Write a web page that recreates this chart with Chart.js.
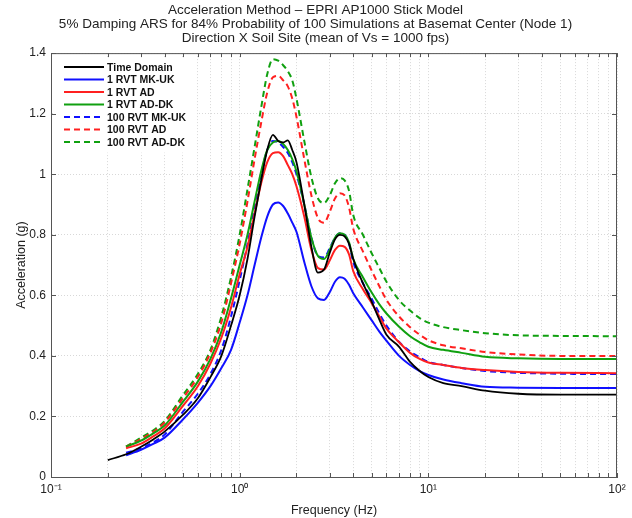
<!DOCTYPE html>
<html>
<head>
<meta charset="utf-8">
<script src="https://cdn.jsdelivr.net/npm/chart.js@4.4.1/dist/chart.umd.min.js"></script>
<style>
  html, body { margin: 0; padding: 0; background: #fff; }
  #wrap { width: 632px; height: 518px; }
</style>
</head>
<body>
<div id="wrap"><canvas id="arsChart" width="632" height="518"></canvas></div>
<script>
// frequencies (Hz)
const freq = [0.2, 0.25, 0.3, 0.35, 0.4, 0.5, 0.6, 0.7, 0.8, 0.9, 1.0, 1.1, 1.2, 1.3, 1.4, 1.5, 1.6, 1.7, 1.8, 1.9,
              2.0, 2.2, 2.4, 2.6, 2.8, 3.0, 3.2, 3.4, 3.6, 3.8, 4.0, 4.5, 5, 5.5, 6, 7, 8, 9, 10, 12, 15, 20, 30, 50, 100];

// spectral acceleration (g)
const timeDomain = [0.056, 0.075, 0.10, 0.125, 0.15, 0.205, 0.26, 0.33, 0.40, 0.50, 0.60, 0.72, 0.86, 0.98, 1.08, 1.13, 1.11, 1.105, 1.112, 1.08,
                    1.04, 0.90, 0.76, 0.675, 0.685, 0.74, 0.785, 0.80, 0.795, 0.77, 0.72, 0.64, 0.58, 0.52, 0.47, 0.43, 0.38, 0.35, 0.33, 0.31, 0.30, 0.285, 0.275, 0.272, 0.272];
const rvt1MkUk = [null, 0.072, 0.09, 0.11, 0.13, 0.19, 0.245, 0.30, 0.36, 0.42, 0.51, 0.60, 0.70, 0.79, 0.86, 0.90, 0.907, 0.895, 0.87, 0.84,
                  0.81, 0.71, 0.63, 0.59, 0.585, 0.61, 0.645, 0.66, 0.655, 0.635, 0.607, 0.56, 0.518, 0.48, 0.45, 0.40, 0.37, 0.35, 0.337, 0.322, 0.31, 0.298, 0.295, 0.294, 0.294];
const rvt1Ad = [null, 0.095, 0.11, 0.135, 0.16, 0.235, 0.30, 0.375, 0.46, 0.56, 0.67, 0.76, 0.87, 0.97, 1.04, 1.07, 1.073, 1.06, 1.03, 1.00,
                0.96, 0.86, 0.75, 0.69, 0.685, 0.715, 0.75, 0.764, 0.76, 0.735, 0.68, 0.62, 0.575, 0.53, 0.49, 0.445, 0.41, 0.39, 0.378, 0.37, 0.36, 0.353, 0.347, 0.344, 0.343];
const rvt1AdDk = [null, 0.10, 0.12, 0.145, 0.17, 0.248, 0.315, 0.39, 0.48, 0.59, 0.70, 0.80, 0.91, 1.01, 1.08, 1.105, 1.11, 1.10, 1.08, 1.05,
                  1.01, 0.90, 0.79, 0.73, 0.72, 0.75, 0.79, 0.805, 0.80, 0.775, 0.72, 0.66, 0.61, 0.57, 0.54, 0.496, 0.465, 0.445, 0.43, 0.42, 0.41, 0.397, 0.392, 0.39, 0.39];
const rvt100MkUk = [null, 0.08, 0.095, 0.115, 0.14, 0.215, 0.275, 0.34, 0.42, 0.53, 0.65, 0.77, 0.89, 1.00, 1.08, 1.11, 1.105, 1.09, 1.07, 1.04,
                    1.00, 0.90, 0.79, 0.73, 0.725, 0.755, 0.79, 0.805, 0.80, 0.77, 0.71, 0.64, 0.59, 0.54, 0.50, 0.446, 0.415, 0.395, 0.38, 0.37, 0.36, 0.35, 0.344, 0.341, 0.34];
const rvt100Ad = [null, 0.10, 0.125, 0.15, 0.18, 0.26, 0.33, 0.41, 0.51, 0.64, 0.77, 0.91, 1.05, 1.17, 1.27, 1.32, 1.325, 1.31, 1.29, 1.25,
                  1.19, 1.05, 0.93, 0.855, 0.84, 0.875, 0.92, 0.937, 0.93, 0.89, 0.82, 0.745, 0.683, 0.63, 0.585, 0.53, 0.495, 0.47, 0.452, 0.435, 0.425, 0.413, 0.405, 0.40, 0.40];
const rvt100AdDk = [null, 0.10, 0.13, 0.155, 0.185, 0.27, 0.34, 0.42, 0.53, 0.66, 0.80, 0.95, 1.09, 1.22, 1.33, 1.38, 1.375, 1.36, 1.34, 1.31,
                    1.25, 1.11, 0.99, 0.92, 0.905, 0.93, 0.97, 0.987, 0.98, 0.945, 0.865, 0.80, 0.74, 0.69, 0.645, 0.584, 0.55, 0.525, 0.51, 0.495, 0.485, 0.475, 0.468, 0.466, 0.465];

const seriesNames = ['Time Domain', '1 RVT MK-UK', '1 RVT AD', '1 RVT AD-DK', '100 RVT MK-UK', '100 RVT AD', '100 RVT AD-DK'];
const seriesValues = [timeDomain, rvt1MkUk, rvt1Ad, rvt1AdDk, rvt100MkUk, rvt100Ad, rvt100AdDk];
const seriesColors = ['#000000', '#1010ff', '#ff2020', '#10a010', '#1010ff', '#ff2020', '#10a010'];
const seriesDashed = [false, false, false, false, true, true, true];

const xTickValues = [0.1, 0.2, 0.3, 0.4, 0.5, 0.6, 0.7, 0.8, 0.9, 1, 2, 3, 4, 5, 6, 7, 8, 9, 10,
                     20, 30, 40, 50, 60, 70, 80, 90, 100];
const xTickLabels = { 0.1: '10\u207B\u00B9', 1: '10\u2070', 10: '10\u00B9', 100: '10\u00B2' };
const yTickValues = [0, 0.2, 0.4, 0.6, 0.8, 1, 1.2, 1.4];

const titleLines = [
    'Acceleration Method \u2013 EPRI AP1000 Stick Model',
    '5% Damping ARS for 84% Probability of 100 Simulations at Basemat Center (Node 1)',
    'Direction X Soil Site (mean of Vs = 1000 fps)'
];

const FONT = '"Liberation Sans", Arial, sans-serif';

// legend inside the plot box (top-left) plus the box frame and inward ticks
const insideLegend = {
    id: 'insideLegend',
    afterDatasetsDraw(chart) {
        const ctx = chart.ctx;
        const area = chart.chartArea;
        const x0 = area.left + 4, y0 = area.top + 4;
        const rowH = 12.5;
        ctx.save();
        ctx.fillStyle = '#fff';
        ctx.fillRect(x0, y0, 142, rowH * seriesNames.length + 8);
        ctx.font = 'bold 10.5px ' + FONT;
        ctx.textBaseline = 'middle';
        chart.data.datasets.forEach((ds, i) => {
            const y = y0 + 10 + i * rowH;
            ctx.strokeStyle = ds.borderColor;
            ctx.lineWidth = 2;
            ctx.setLineDash(ds.borderDash || []);
            ctx.beginPath();
            ctx.moveTo(x0 + 9, y);
            ctx.lineTo(x0 + 49, y);
            ctx.stroke();
            ctx.setLineDash([]);
            ctx.fillStyle = '#111';
            ctx.fillText(ds.label, x0 + 52, y + 0.5);
        });
        ctx.restore();
    },
    afterDraw(chart) {
        const a = chart.chartArea;
        const ctx = chart.ctx;
        const xs = chart.scales.x, ys = chart.scales.y;
        ctx.save();
        ctx.strokeStyle = '#555';
        ctx.lineWidth = 1;
        ctx.strokeRect(a.left + 0.5, a.top + 0.5, a.right - a.left - 1, a.bottom - a.top);
        ctx.beginPath();
        xTickValues.forEach(v => {
            const px = Math.round(xs.getPixelForValue(v)) + 0.5;
            ctx.moveTo(px, a.bottom); ctx.lineTo(px, a.bottom - 4);
            ctx.moveTo(px, a.top); ctx.lineTo(px, a.top + 4);
        });
        yTickValues.forEach(v => {
            const py = Math.round(ys.getPixelForValue(v)) + 0.5;
            ctx.moveTo(a.left, py); ctx.lineTo(a.left + 5, py);
            ctx.moveTo(a.right, py); ctx.lineTo(a.right - 5, py);
        });
        ctx.stroke();
        ctx.restore();
    }
};

const datasets = seriesNames.map((name, i) => ({
    label: name,
    data: freq.map((f, k) => ({ x: f, y: seriesValues[i][k] })),
    borderColor: seriesColors[i],
    borderWidth: i === 0 ? 1.8 : 2,
    borderDash: seriesDashed[i] ? [6, 4] : [],
    pointRadius: 0,
    cubicInterpolationMode: 'monotone',
    fill: false
}));

const ctx = document.getElementById('arsChart').getContext('2d');
const arsChart = new Chart(ctx, {
    type: 'line',
    data: { datasets: datasets },
    options: {
        responsive: false,
        animation: false,
        layout: { padding: { left: 14, right: 15, top: 0, bottom: 0 } },
        scales: {
            x: {
                type: 'logarithmic',
                min: 0.1,
                max: 100,
                afterBuildTicks: (scale) => {
                    scale.ticks = xTickValues.map(v => ({ value: v }));
                },
                afterFit: (scale) => { scale.height = 41; },
                ticks: {
                    autoSkip: false,
                    maxRotation: 0,
                    color: '#222',
                    font: { family: FONT, size: 12 },
                    padding: 5,
                    callback: (value) => xTickLabels[value] || ''
                },
                grid: {
                    color: '#d8d8d8',
                    drawTicks: false
                },
                border: { color: '#555', dash: [1, 2] },
                title: {
                    display: true,
                    text: 'Frequency (Hz)',
                    color: '#222',
                    font: { family: FONT, size: 12.5 },
                    padding: { top: 1, bottom: 0 }
                }
            },
            y: {
                min: 0,
                max: 1.4,
                afterBuildTicks: (scale) => {
                    scale.ticks = yTickValues.map(v => ({ value: v }));
                },
                afterFit: (scale) => { scale.width = 37; },
                ticks: {
                    color: '#222',
                    font: { family: FONT, size: 12 },
                    padding: 5,
                    callback: (value) => String(value)
                },
                grid: {
                    color: '#d8d8d8',
                    drawTicks: false
                },
                border: { color: '#555', dash: [1, 2] },
                title: {
                    display: true,
                    text: 'Acceleration (g)',
                    color: '#222',
                    font: { family: FONT, size: 12.5 },
                    padding: { top: 0, bottom: 2 }
                }
            }
        },
        plugins: {
            legend: { display: false },
            tooltip: { enabled: false },
            title: {
                display: true,
                text: titleLines,
                color: '#222',
                font: { family: FONT, size: 13.5, weight: 'normal', lineHeight: 1.04 },
                padding: { top: 3, bottom: 8 }
            }
        }
    },
    plugins: [insideLegend]
});
</script>
</body>
</html>
